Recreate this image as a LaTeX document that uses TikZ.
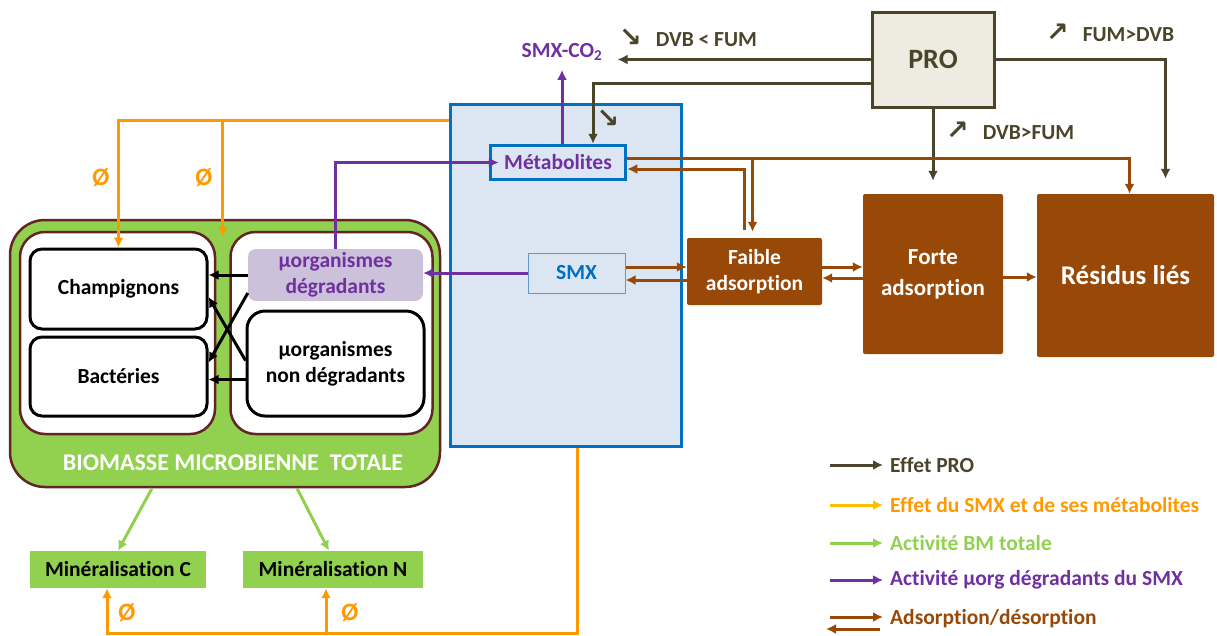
\documentclass[tikz,border=0pt]{standalone}
\usepackage{fontspec}
\setmainfont{Carlito}[Ligatures=NoCommon]
\newfontfamily\arrowfont{DejaVu Sans}
\newcommand\arrsym[1]{{\fontsize{27}{20}\selectfont\arrowfont\bfseries #1}}
\usetikzlibrary{arrows.meta,positioning,calc}
\definecolor{proDark}{RGB}{74,69,42}
\definecolor{proFill}{RGB}{238,236,225}
\definecolor{smxOrange}{RGB}{255,153,0}
\definecolor{smxYellow}{RGB}{255,192,0}
\definecolor{bmGreen}{RGB}{146,208,80}
\definecolor{degPurple}{RGB}{112,48,160}
\definecolor{degLilac}{RGB}{204,193,218}
\definecolor{adsBrown}{RGB}{152,72,7}
\definecolor{soilBlue}{RGB}{0,112,192}
\definecolor{soilFill}{RGB}{220,230,242}
\definecolor{smxEdge}{RGB}{100,150,215}
\definecolor{bmEdge}{RGB}{99,37,35}

\begin{document}
\begin{tikzpicture}[x=1pt,y=-1pt,
  every node/.style={font=\fontsize{21.5}{26}\selectfont\bfseries,align=center,inner sep=0pt},
  headArr/.style={-{Latex[length=10pt,width=10pt]},line width=3pt},
  proArr/.style={headArr,draw=proDark},
  smxArr/.style={headArr,draw=smxOrange},
  bmArr/.style={headArr,draw=bmGreen},
  degArr/.style={headArr,draw=degPurple},
  adsArr/.style={headArr,draw=adsBrown},
  bkArr/.style={headArr,draw=black},
  ads/.style={fill=adsBrown,text=white,rounded corners=2pt},
  zero/.style={text=smxOrange,font=\fontsize{25}{26}\selectfont\bfseries}]
\useasboundingbox (0,0) rectangle (1217,635);

% PRO and the soil
\node[draw=proDark,fill=proFill,line width=3pt,minimum width=122pt,minimum height=95pt,text=proDark,font=\fontsize{28}{30}\selectfont\bfseries] (pro) at (933,59.5) {PRO};
\node[draw=soilBlue,fill=soilFill,line width=3pt,minimum width=231pt,minimum height=342pt] (bulk) at (565.5,275) {};
\node[draw=soilBlue,fill=soilFill,line width=3.5pt,minimum width=135pt,minimum height=34pt,text=degPurple] (metab) at (558,162.5) {Métabolites};
\node[draw=smxEdge,fill=soilFill,line width=1pt,minimum width=97pt,minimum height=40pt,text=soilBlue] (smx) at (576.5,273) {SMX};
\node[text=degPurple] (co2) at (562,52) {SMX-CO\textsubscript{2}};
\node[ads,minimum width=135pt,minimum height=67pt] (faible) at (754.5,271.5) {Faible\\adsorption};
\node[ads,minimum width=140pt,minimum height=160pt,font=\fontsize{23}{31}\selectfont\bfseries] (forte) at (933,274) {Forte\\adsorption};
\node[ads,minimum width=177pt,minimum height=163pt,font=\fontsize{27}{30}\selectfont\bfseries] (residus) at (1125.5,275.5) {Résidus liés};

% biomasse
\node[draw=bmEdge,fill=bmGreen,line width=2.5pt,rounded corners=35pt,minimum width=430pt,minimum height=267pt] (biomasse) at (225,353.5) {};
\node[draw=bmEdge,fill=white,line width=2.5pt,rounded corners=25pt,minimum width=195pt,minimum height=202pt] (grpL) at (117.5,333) {};
\node[draw=bmEdge,fill=white,line width=2.5pt,rounded corners=25pt,minimum width=202pt,minimum height=202pt] (grpR) at (331.5,333) {};
\node[draw=black,fill=white,line width=3pt,rounded corners=12pt,minimum width=177pt,minimum height=80pt] (champ) at (118.5,289) {Champignons};
\node[draw=black,fill=white,line width=3pt,rounded corners=12pt,minimum width=177pt,minimum height=79pt] (bact) at (118.5,376.5) {Bactéries};
\node[fill=degLilac,text=degPurple,rounded corners=8pt,minimum width=175pt,minimum height=52pt] (degr) at (335.5,275) {µorganismes\\dégradants};
\node[draw=black,fill=white,line width=3pt,rounded corners=18pt,minimum width=177pt,minimum height=105pt] (nondeg) at (335.5,363.5) {µorganismes\\non dégradants};
\node[text=white,font=\fontsize{24}{26}\selectfont\bfseries] (bmLabel) at (233,463) {BIOMASSE MICROBIENNE\ \ TOTALE};
\node[fill=bmGreen,minimum width=176pt,minimum height=37pt] (minC) at (118,569.5) {Minéralisation C};
\node[fill=bmGreen,minimum width=180pt,minimum height=37pt] (minN) at (333,569.5) {Minéralisation N};

% effet PRO
\node[text=proDark,anchor=west] (dvbFum) at (619,38) {\arrsym{↘}\hspace{14pt}DVB < FUM};
\node[text=proDark] (dnMet) at (608,119) {\arrsym{↘}};
\node[text=proDark,anchor=west] (dvbSup) at (946,131) {\arrsym{↗}\hspace{14pt}DVB>FUM};
\node[text=proDark,anchor=west] (fumSup) at (1046,33) {\arrsym{↗}\hspace{14pt}FUM>DVB};
\coordinate (co2tip) at ($(co2.east)+(15,0)$);
\draw[proArr] (pro.west) -- (pro.west -| co2tip);
\coordinate (proW2) at ($(pro.west)+(0,23.5)$);
\draw[proArr] (proW2) -| ($(metab.north)+(35,0)$);
\draw[proArr,shorten >=13pt] (pro.south) -- (forte.north);
\draw[proArr,shorten >=15pt] (pro.east) -| ($(residus.north)+(40,0)$);

% adsorption / desorption
\coordinate (mOut) at ($(metab.east)+(0,-4.5)$);
\coordinate (mIn) at ($(metab.east)+(0,6.5)$);
\draw[adsArr] (mOut) -| ($(residus.north)+(4,0)$);
\coordinate (fN1) at ($(faible.north)+(-2,-6)$);
\draw[adsArr] (mOut -| fN1) -- (fN1);
\coordinate (fN2) at ($(faible.north)+(-10,-8)$);
\draw[adsArr] (fN2) |- (mIn);
\coordinate (sA) at ($(smx.east)+(0,-6)$);
\draw[adsArr] (sA) -- (sA -| faible.west);
\coordinate (sB) at ($(faible.west)+(0,8.5)$);
\draw[adsArr] (sB) -- (sB -| smx.east);
\coordinate (fA) at ($(faible.east)+(0,-4.5)$);
\draw[adsArr] (fA) -- (fA -| forte.west);
\coordinate (fB) at ($(forte.west)+(0,4)$);
\draw[adsArr] (fB) -- (fB -| faible.east);
\coordinate (rA) at ($(forte.east)+(0,3)$);
\draw[adsArr] (rA) -- (rA -| residus.west);

% degradants
\draw[degArr] (degr.north) |- ($(metab.west)+(10,0)$);
\draw[degArr] (smx.west) -- (smx.west -| degr.east);
\draw[degArr] (co2 |- metab.north) -- ($(co2.south)+(0,9)$);

% effet du SMX
\coordinate (oTop) at ($(bulk.north west)+(0,18)$);
\coordinate (gap) at ($(grpL.north east)!0.5!(grpR.north west)+(0,6)$);
\draw[smxArr] (oTop) -| (champ.north);
\draw[smxArr] (oTop -| gap) -- (gap);
\draw[smxArr] ($(bulk.south)+(12,0)$) |- ($(minC.south)+(-11,45)$) -- ($(minC.south)+(-11,0)$);
\draw[smxArr] ($(minN.south)+(-7,45)$) -- ($(minN.south)+(-7,0)$);
\node[zero] (z1) at (101,178) {Ø};
\node[zero] (z2) at (204,178) {Ø};
\node[zero] (z3) at (127,613) {Ø};
\node[zero] (z4) at (350,613) {Ø};

% activite BM
\draw[bmArr] ($(biomasse.south)+(-73,0)$) -- (minC.north);
\draw[bmArr] ($(biomasse.south)+(72,0)$) -- ($(minN.north)+(-4,0)$);

% transferts entre microorganismes
\draw[bkArr] (degr.west) -- (degr.west -| champ.east);
\draw[bkArr] ($(degr.west)+(0,18)$) -- ($(bact.east)+(0,-14)$);
\draw[bkArr] ($(nondeg.west)+(0,-3)$) -- ($(champ.east)+(0,8)$);
\coordinate (nB) at ($(nondeg.west)+(0,16)$);
\draw[bkArr] (nB) -- (nB -| bact.east);

% legende
\node[text=proDark,anchor=west] (legPro) at (890,465) {Effet PRO};
\node[text=smxOrange,anchor=west] (legSmx) at (890,505) {Effet du SMX et de ses métabolites};
\node[text=bmGreen,anchor=west] (legBm) at (890,543) {Activité BM totale};
\node[text=degPurple,anchor=west] (legDeg) at (890,580) {Activité µorg dégradants du SMX};
\node[text=adsBrown,anchor=west] (legAds) at (890,619) {Adsorption/désorption};
\draw[proArr] ($(legPro.west)+(-60,0)$) -- ($(legPro.west)+(-7,0)$);
\draw[headArr,draw=smxYellow] ($(legSmx.west)+(-60,0)$) -- ($(legSmx.west)+(-7,0)$);
\draw[bmArr] ($(legBm.west)+(-60,0)$) -- ($(legBm.west)+(-7,0)$);
\draw[degArr] ($(legDeg.west)+(-60,0)$) -- ($(legDeg.west)+(-7,0)$);
\draw[adsArr] ($(legAds.west)+(-60,-2)$) -- ($(legAds.west)+(-7,-2)$);
\draw[adsArr] ($(legAds.west)+(-10,10)$) -- ($(legAds.west)+(-64,10)$);
\end{tikzpicture}
\end{document}
